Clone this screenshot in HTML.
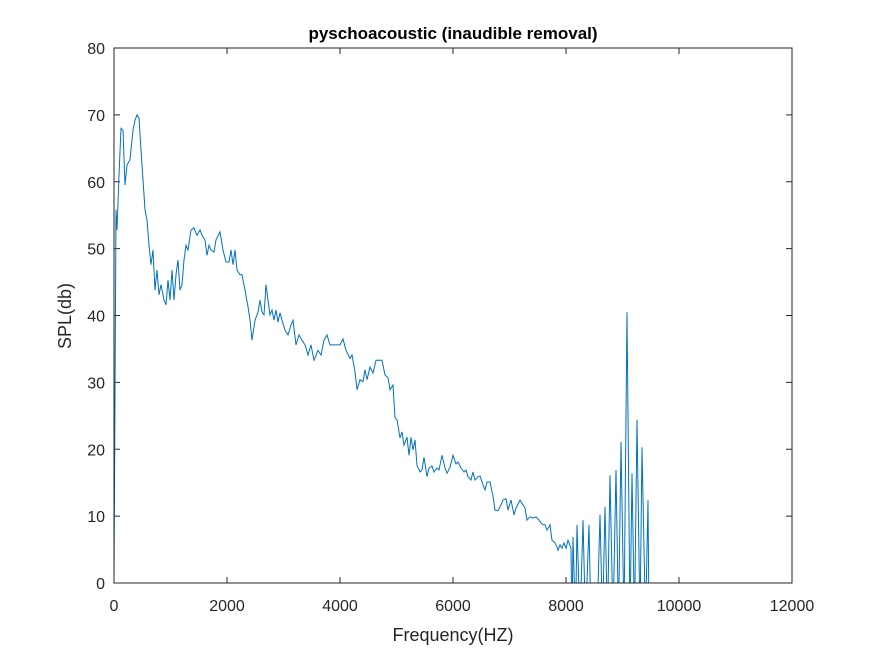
<!DOCTYPE html>
<html><head><meta charset="utf-8"><style>
html,body{margin:0;background:#fff;overflow:hidden;width:875px;height:656px}
svg{display:block}
svg text{font-family:"Liberation Sans",Arial,sans-serif;fill:#262626}
</style></head><body>
<svg id="chart" width="875" height="656" xmlns="http://www.w3.org/2000/svg">
<rect width="875" height="656" fill="#fff"/>
<defs><clipPath id="clip"><rect x="114" y="48" width="678" height="535"/></clipPath></defs>
<text x="453" y="39" text-anchor="middle" font-size="17" font-weight="bold" style="fill:#000">pyschoacoustic (inaudible removal)</text>
<g id="axes"></g>
<path id="line" fill="none" stroke="#0072BD" stroke-width="1" clip-path="url(#clip)"/>
<rect x="114" y="48" width="678" height="535" fill="none" stroke="#262626" stroke-width="1"/>
<text x="453" y="641" text-anchor="middle" font-size="18">Frequency(HZ)</text>
<text transform="translate(71,316) rotate(-90)" text-anchor="middle" font-size="18">SPL(db)</text>
</svg>
<script>
const freq=[0,35,53,88,124,159,195,230,283,336,372,407,442,478,513,549,584,619,655,690,726,761,796,832,885,920,956,991,1027,1062,1097,1133,1168,1204,1239,1274,1310,1363,1416,1469,1522,1558,1611,1646,1681,1717,1770,1805,1876,1929,1982,2035,2071,2106,2142,2177,2230,2265,2319,2372,2407,2442,2496,2549,2584,2619,2655,2690,2726,2761,2796,2832,2867,2903,2938,2973,3027,3080,3133,3168,3221,3274,3327,3381,3434,3487,3540,3611,3664,3717,3770,3823,3876,3947,4000,4053,4106,4177,4212,4265,4301,4354,4407,4442,4478,4531,4584,4637,4690,4743,4796,4850,4885,4938,4973,5009,5062,5097,5133,5186,5221,5257,5292,5327,5363,5416,5451,5487,5540,5575,5628,5664,5717,5752,5805,5858,5894,5947,6000,6053,6088,6142,6195,6230,6265,6319,6354,6389,6442,6478,6531,6566,6602,6655,6708,6743,6796,6850,6885,6938,6973,7027,7080,7115,7186,7239,7274,7310,7363,7416,7469,7522,7575,7628,7664,7717,7752,7805,7841,7858,7894,7929,7965,8000,8035,8088,8106,8124,8168,8195,8248,8301,8345,8407,8442,8549,8602,8646,8690,8735,8779,8832,8885,8929,8973,9027,9080,9133,9168,9212,9257,9310,9345,9407,9451,9469,12000];
const spl=[0,55.8,52.8,61.0,68.0,67.7,59.5,62.5,63.3,67.7,69.2,70.0,69.5,64.7,60.3,55.8,54.3,50.5,47.6,49.8,43.8,46.8,43.1,44.6,42.3,41.6,45.3,42.3,46.8,42.3,46.1,48.3,43.8,44.6,48.3,50.5,49.8,52.8,53.1,52.0,52.8,52.0,51.3,49.0,50.5,49.8,49.5,51.3,52.5,49.8,48.0,48.0,49.8,47.6,49.8,46.8,46.1,46.1,43.8,41.3,39.3,36.3,39.3,40.5,42.3,40.5,40.1,44.6,42.3,40.1,40.8,39.3,40.8,39.0,40.4,39.3,37.8,37.1,38.6,39.3,35.6,37.1,36.3,35.6,34.1,35.6,33.3,34.8,34.1,36.3,37.1,35.6,35.6,35.6,35.6,36.5,34.8,33.6,34.1,31.6,28.9,30.4,30.1,31.9,30.4,32.3,31.4,33.3,33.3,33.3,31.1,30.7,28.9,29.6,24.7,24.4,21.7,22.6,20.6,21.8,19.1,21.8,19.9,21.4,17.6,16.6,16.9,18.8,15.9,17.2,17.5,16.6,17.2,16.9,19.1,17.2,16.4,17.3,19.1,17.8,18.1,17.2,16.6,16.9,15.9,15.4,16.6,15.4,15.9,16.0,14.7,13.9,15.1,15.1,13.0,10.9,10.8,11.7,12.4,12.6,10.9,12.4,10.2,11.2,12.4,11.7,11.2,9.4,9.9,9.7,9.9,9.4,8.8,8.7,7.9,8.7,6.4,6.0,5.4,4.9,5.7,5.2,6.0,5.2,6.4,5.2,-6,6.9,-6,8.7,-6,9.4,-6,8.7,-6,-6,10.2,-6,11.4,-6,16.1,-6,16.9,-6,21.1,-6,40.5,-6,16.4,-6,24.4,-6,20.3,-6,12.4,-6,0];
const xTicks=[0,2000,4000,6000,8000,10000,12000];
const yTicks=[0,10,20,30,40,50,60,70,80];
const X0=114,X1=792,Y0=583,Y1=48;
const xs=v=>X0+(v-0)/12000*(X1-X0);
const ys=v=>Y0-(v-0)/80*(Y0-Y1);
const NS='http://www.w3.org/2000/svg';
const ax=document.getElementById('axes');
xTicks.forEach(t=>{
 const x=xs(t);
 const l=document.createElementNS(NS,'path');
 l.setAttribute('d',`M${x},${Y0}v-6M${x},${Y1}v6`);l.setAttribute('stroke','#262626');
 
 
 ax.appendChild(l);
 const tx=document.createElementNS(NS,'text');
 tx.setAttribute('x',x);tx.setAttribute('y',611);tx.setAttribute('text-anchor','middle');tx.setAttribute('font-size','16');
 tx.textContent=t;
 
 
 ax.appendChild(tx);
});
yTicks.forEach(t=>{
 const y=ys(t);
 const l=document.createElementNS(NS,'path');
 l.setAttribute('d',`M${X0},${y}h6M${X1},${y}h-6`);l.setAttribute('stroke','#262626');
 
 
 ax.appendChild(l);
 const tx=document.createElementNS(NS,'text');
 tx.setAttribute('x',105);tx.setAttribute('y',y+6);tx.setAttribute('text-anchor','end');tx.setAttribute('font-size','16');
 tx.textContent=t;
 
 
 ax.appendChild(tx);
});
document.getElementById('line').setAttribute('d',freq.map((f,i)=>(i?'L':'M')+xs(f).toFixed(1)+','+ys(spl[i]).toFixed(1)).join(''));
</script>
</body></html>
